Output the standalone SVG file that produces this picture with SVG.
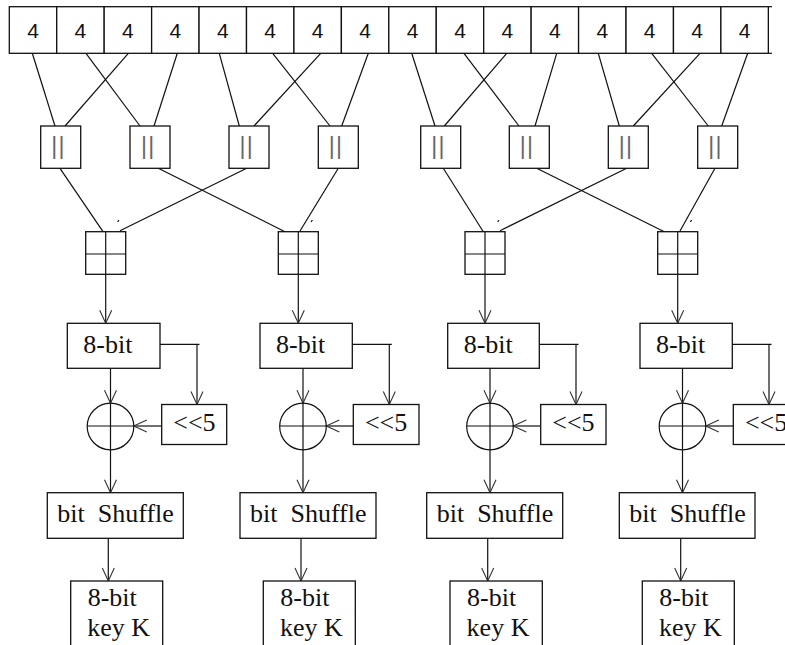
<svg xmlns="http://www.w3.org/2000/svg" width="785" height="645" viewBox="0 0 785 645">
<defs>
<marker id="ah" markerUnits="userSpaceOnUse" markerWidth="16" markerHeight="14" refX="14" refY="7" orient="auto" overflow="visible">
<path d="M1,1 L14,7 L1,13" fill="none" stroke="#333" stroke-width="1.1"/>
</marker>
<style>
.bx{fill:#fff;stroke:#111;stroke-width:1.3}
.ln{fill:none;stroke:#111;stroke-width:1.2}
.ar{fill:none;stroke:#111;stroke-width:1.2;marker-end:url(#ah)}
.d4{font-family:"Liberation Sans",Arial,sans-serif;font-size:21px;fill:#111;text-anchor:middle}
.eq{font-family:"Liberation Sans",Arial,sans-serif;font-size:23px;fill:#666;letter-spacing:1.3px}
.t{font-family:"Liberation Serif","Times New Roman",serif;font-size:26px;fill:#111}
</style>
</defs>
<rect width="785" height="645" fill="#fff"/>

<g id="input">
<rect class="bx" x="9.3" y="6.7" width="47.44" height="46.6"/>
<rect class="bx" x="56.74" y="6.7" width="47.44" height="46.6"/>
<rect class="bx" x="104.18" y="6.7" width="47.44" height="46.6"/>
<rect class="bx" x="151.62" y="6.7" width="47.44" height="46.6"/>
<rect class="bx" x="199.06" y="6.7" width="47.44" height="46.6"/>
<rect class="bx" x="246.5" y="6.7" width="47.44" height="46.6"/>
<rect class="bx" x="293.94" y="6.7" width="47.44" height="46.6"/>
<rect class="bx" x="341.38" y="6.7" width="47.44" height="46.6"/>
<rect class="bx" x="388.82" y="6.7" width="47.44" height="46.6"/>
<rect class="bx" x="436.26" y="6.7" width="47.44" height="46.6"/>
<rect class="bx" x="483.7" y="6.7" width="47.44" height="46.6"/>
<rect class="bx" x="531.14" y="6.7" width="47.44" height="46.6"/>
<rect class="bx" x="578.58" y="6.7" width="47.44" height="46.6"/>
<rect class="bx" x="626.02" y="6.7" width="47.44" height="46.6"/>
<rect class="bx" x="673.46" y="6.7" width="47.44" height="46.6"/>
<rect class="bx" x="720.9" y="6.7" width="47.44" height="46.6"/>
<line class="ln" x1="768" y1="6.7" x2="772" y2="6.7"/>
<line class="ln" x1="768" y1="53.3" x2="772" y2="53.3"/>
<text class="d4" x="33" y="38.3">4</text>
<text class="d4" x="80.4" y="38.3">4</text>
<text class="d4" x="127.9" y="38.3">4</text>
<text class="d4" x="175.3" y="38.3">4</text>
<text class="d4" x="222.8" y="38.3">4</text>
<text class="d4" x="270.2" y="38.3">4</text>
<text class="d4" x="317.7" y="38.3">4</text>
<text class="d4" x="365.1" y="38.3">4</text>
<text class="d4" x="412.5" y="38.3">4</text>
<text class="d4" x="460" y="38.3">4</text>
<text class="d4" x="507.4" y="38.3">4</text>
<text class="d4" x="554.9" y="38.3">4</text>
<text class="d4" x="602.3" y="38.3">4</text>
<text class="d4" x="649.7" y="38.3">4</text>
<text class="d4" x="697.2" y="38.3">4</text>
<text class="d4" x="744.6" y="38.3">4</text>
</g>

<g id="connectors">
<line class="ln" x1="32.3" y1="53.3" x2="55" y2="126"/>
<line class="ln" x1="128.3" y1="53.3" x2="65" y2="126"/>
<line class="ln" x1="86" y1="53.3" x2="140" y2="126"/>
<line class="ln" x1="177.3" y1="53.3" x2="154" y2="126"/>
<line class="ln" x1="219.3" y1="53.3" x2="239.3" y2="126"/>
<line class="ln" x1="320.7" y1="53.3" x2="254" y2="126"/>
<line class="ln" x1="272.7" y1="53.3" x2="330" y2="126"/>
<line class="ln" x1="368.3" y1="53.3" x2="341.7" y2="126"/>
<line class="ln" x1="411.7" y1="53.3" x2="435" y2="126"/>
<line class="ln" x1="506.7" y1="53.3" x2="444.3" y2="126"/>
<line class="ln" x1="464" y1="53.3" x2="519" y2="126"/>
<line class="ln" x1="556.7" y1="53.3" x2="535" y2="126"/>
<line class="ln" x1="598.3" y1="53.3" x2="619.3" y2="126"/>
<line class="ln" x1="700" y1="53.3" x2="633.3" y2="126"/>
<line class="ln" x1="651.7" y1="53.3" x2="708.3" y2="126"/>
<line class="ln" x1="747.7" y1="53.3" x2="721.7" y2="126"/>

<line class="ln" x1="60" y1="168.3" x2="103" y2="231.7"/>
<line class="ln" x1="158.3" y1="168.3" x2="285" y2="231.7"/>
<line class="ln" x1="246.7" y1="168.3" x2="120" y2="230.7"/>
<line class="ln" x1="338.3" y1="168.3" x2="300" y2="231"/>
<line class="ln" x1="443.3" y1="168.3" x2="483.3" y2="231.7"/>
<line class="ln" x1="536.7" y1="168.3" x2="664.3" y2="231.7"/>
<line class="ln" x1="626.7" y1="168.3" x2="500" y2="230.7"/>
<line class="ln" x1="715" y1="168.3" x2="680" y2="231"/>
<line class="ln" x1="117.6" y1="221.8" x2="119" y2="220.2"/>
<line class="ln" x1="311" y1="221.8" x2="312.4" y2="220.2"/>
<line class="ln" x1="497.6" y1="221.8" x2="499" y2="220.2"/>
<line class="ln" x1="690.3" y1="221.8" x2="691.7" y2="220.2"/>

<line class="ar" x1="105.7" y1="274.3" x2="105.7" y2="323.3"/>
<line class="ar" x1="298.3" y1="274.3" x2="298.3" y2="323.3"/>
<line class="ar" x1="485" y1="274.3" x2="485" y2="323.3"/>
<line class="ar" x1="677.7" y1="274.3" x2="677.7" y2="323.3"/>

<path class="ln" d="M160,344.3 H199.5"/>
<path class="ar" d="M197,344.3 V404.5"/>
<path class="ln" d="M352.3,344.3 H391.8"/>
<path class="ar" d="M389.3,344.3 V404.5"/>
<path class="ln" d="M539.3,344.3 H578.5"/>
<path class="ar" d="M576,344.3 V404.5"/>
<path class="ln" d="M732.3,344.3 H771.5"/>
<path class="ar" d="M769,344.3 V404.5"/>

<line class="ar" x1="110.5" y1="368.3" x2="110.5" y2="403.2"/>
<line class="ar" x1="303" y1="368.3" x2="303" y2="403.2"/>
<line class="ar" x1="490" y1="368.3" x2="490" y2="403.2"/>
<line class="ar" x1="682.5" y1="368.3" x2="682.5" y2="403.2"/>

<line class="ar" x1="161.7" y1="426" x2="133.8" y2="426"/>
<line class="ar" x1="353.3" y1="426" x2="326.3" y2="426"/>
<line class="ar" x1="540.7" y1="426" x2="513.3" y2="426"/>
<line class="ar" x1="733.3" y1="426" x2="705.8" y2="426"/>

<line class="ar" x1="110.5" y1="449.8" x2="110.5" y2="492.7"/>
<line class="ar" x1="303" y1="449.8" x2="303" y2="492.7"/>
<line class="ar" x1="490" y1="449.8" x2="490" y2="492.7"/>
<line class="ar" x1="682.5" y1="449.8" x2="682.5" y2="492.7"/>

<line class="ar" x1="108.3" y1="538.3" x2="108.3" y2="581"/>
<line class="ar" x1="301" y1="538.3" x2="301" y2="581"/>
<line class="ar" x1="487.7" y1="538.3" x2="487.7" y2="581"/>
<line class="ar" x1="680.7" y1="538.3" x2="680.7" y2="581"/>
</g>

<g id="concat1"><rect class="bx" x="40.7" y="126" width="40" height="42.3"/><text class="eq" x="51.2" y="153.5">||</text></g>
<g id="concat2"><rect class="bx" x="130" y="126" width="40" height="42.3"/><text class="eq" x="141" y="153.5">||</text></g>
<g id="concat3"><rect class="bx" x="229" y="126" width="40" height="42.3"/><text class="eq" x="239.5" y="153.5">||</text></g>
<g id="concat4"><rect class="bx" x="318.3" y="126" width="40" height="42.3"/><text class="eq" x="328.8" y="153.5">||</text></g>
<g id="concat5"><rect class="bx" x="420.7" y="126" width="40" height="42.3"/><text class="eq" x="431.2" y="153.5">||</text></g>
<g id="concat6"><rect class="bx" x="509.3" y="126" width="40" height="42.3"/><text class="eq" x="519.8" y="153.5">||</text></g>
<g id="concat7"><rect class="bx" x="608.3" y="126" width="40" height="42.3"/><text class="eq" x="618.8" y="153.5">||</text></g>
<g id="concat8"><rect class="bx" x="697.7" y="126" width="40" height="42.3"/><text class="eq" x="708.2" y="153.5">||</text></g>

<g id="grid1"><rect class="bx" x="85.7" y="231.7" width="40" height="42.6"/><path class="ln" d="M105.7,231.7 V274.3 M85.7,254 H125.7"/></g>
<g id="grid2"><rect class="bx" x="278.3" y="231.7" width="40" height="42.6"/><path class="ln" d="M298.3,231.7 V274.3 M278.3,254 H318.3"/></g>
<g id="grid3"><rect class="bx" x="465" y="231.7" width="40" height="42.6"/><path class="ln" d="M485,231.7 V274.3 M465,254 H505"/></g>
<g id="grid4"><rect class="bx" x="657.7" y="231.7" width="40" height="42.6"/><path class="ln" d="M677.7,231.7 V274.3 M657.7,254 H697.7"/></g>

<g id="reg1"><rect class="bx" x="67.3" y="323.3" width="92.7" height="45"/><text class="t" x="83.3" y="353.3">8-bit</text></g>
<g id="reg2"><rect class="bx" x="260" y="323.3" width="92.3" height="45"/><text class="t" x="276" y="353.3">8-bit</text></g>
<g id="reg3"><rect class="bx" x="447.7" y="323.3" width="91.6" height="45"/><text class="t" x="463.7" y="353.3">8-bit</text></g>
<g id="reg4"><rect class="bx" x="640" y="323.3" width="92.3" height="45"/><text class="t" x="656" y="353.3">8-bit</text></g>

<g id="shift1"><rect class="bx" x="161.7" y="404.5" width="65" height="40"/><text class="t" x="173.3" y="431">&lt;&lt;5</text></g>
<g id="shift2"><rect class="bx" x="353.3" y="404.5" width="65.7" height="40"/><text class="t" x="364.9" y="431">&lt;&lt;5</text></g>
<g id="shift3"><rect class="bx" x="540.7" y="404.5" width="65.3" height="40"/><text class="t" x="552.3" y="431">&lt;&lt;5</text></g>
<g id="shift4"><rect class="bx" x="733.3" y="404.5" width="65.3" height="40"/><text class="t" x="744.9" y="431">&lt;&lt;5</text></g>

<g id="xor1"><circle class="ln" cx="110.5" cy="426.5" r="23.3"/><path class="ln" d="M110.5,403.2 V449.8 M87.2,426 H133.8"/></g>
<g id="xor2"><circle class="ln" cx="303" cy="426.5" r="23.3"/><path class="ln" d="M303,403.2 V449.8 M279.7,426 H326.3"/></g>
<g id="xor3"><circle class="ln" cx="490" cy="426.5" r="23.3"/><path class="ln" d="M490,403.2 V449.8 M466.7,426 H513.3"/></g>
<g id="xor4"><circle class="ln" cx="682.5" cy="426.5" r="23.3"/><path class="ln" d="M682.5,403.2 V449.8 M659.2,426 H705.8"/></g>

<g id="shuffle1"><rect class="bx" x="47.3" y="492.7" width="136" height="45.6"/><text class="t" x="57.3" y="521.5" xml:space="preserve">bit  Shuffle</text></g>
<g id="shuffle2"><rect class="bx" x="240" y="492.7" width="136" height="45.6"/><text class="t" x="250" y="521.5" xml:space="preserve">bit  Shuffle</text></g>
<g id="shuffle3"><rect class="bx" x="426.7" y="492.7" width="136" height="45.6"/><text class="t" x="436.7" y="521.5" xml:space="preserve">bit  Shuffle</text></g>
<g id="shuffle4"><rect class="bx" x="619.3" y="492.7" width="135.7" height="45.6"/><text class="t" x="629.3" y="521.5" xml:space="preserve">bit  Shuffle</text></g>

<g id="key1"><rect class="bx" x="70.7" y="581" width="92" height="80"/><text class="t" x="87.7" y="606">8-bit</text><text class="t" x="87.3" y="635.7">key K</text></g>
<g id="key2"><rect class="bx" x="263.3" y="581" width="92" height="80"/><text class="t" x="280.3" y="606">8-bit</text><text class="t" x="279.9" y="635.7">key K</text></g>
<g id="key3"><rect class="bx" x="450" y="581" width="92.3" height="80"/><text class="t" x="467" y="606">8-bit</text><text class="t" x="466.6" y="635.7">key K</text></g>
<g id="key4"><rect class="bx" x="642.3" y="581" width="92" height="80"/><text class="t" x="659.3" y="606">8-bit</text><text class="t" x="658.9" y="635.7">key K</text></g>
</svg>
